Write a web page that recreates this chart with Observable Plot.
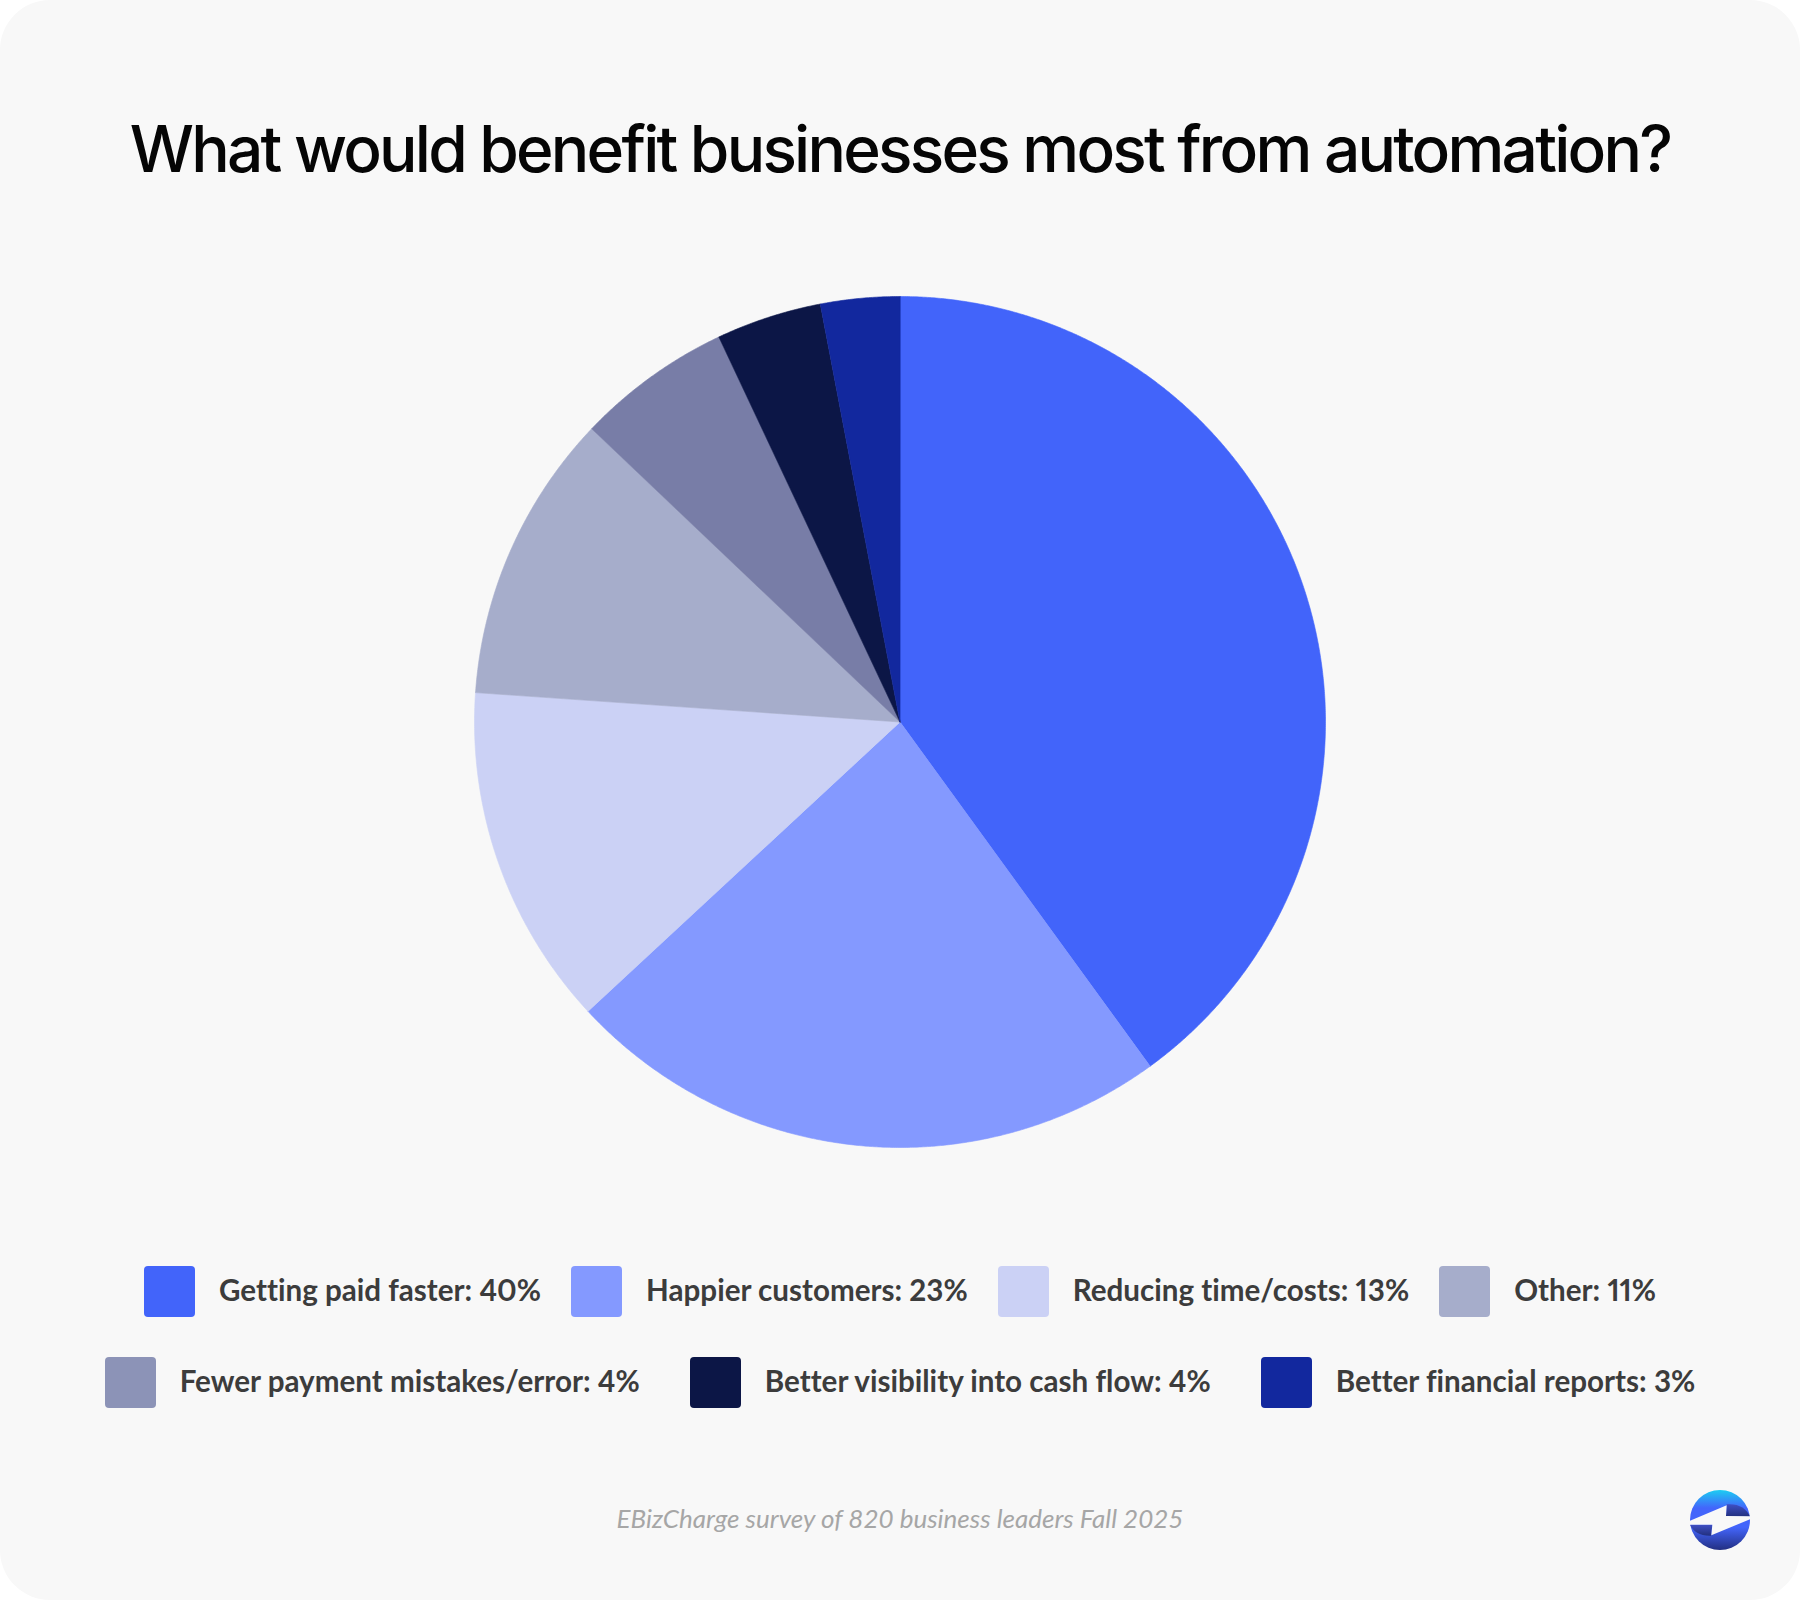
<!DOCTYPE html>
<html><head><meta charset="utf-8">
<script src="https://cdn.jsdelivr.net/npm/d3@7"></script>
<script src="https://cdn.jsdelivr.net/npm/@observablehq/plot@0.6"></script>
<style>
html,body{margin:0;padding:0;background:#fff}
#card{position:relative;width:1800px;height:1600px;background:#f8f8f8;border-radius:50px;overflow:hidden}
#title{position:absolute;left:0;right:0;top:104px;text-align:center;font:500 64px/90px Inter,sans-serif;color:#050505;letter-spacing:-2.76px;white-space:nowrap}
#chart{position:absolute;left:0;top:250px}
.row{position:absolute;left:0;right:0;display:flex;justify-content:center;height:51px}
#row1{gap:30px}
#row2{gap:50px}
.item{display:flex;align-items:center;gap:24px;font:700 29.6px Lato,sans-serif;color:#3c3c3c;white-space:nowrap;font-variant-ligatures:none;font-variant-numeric:proportional-nums}
.item span{margin-top:-4px}
.sw{width:51px;height:51px;border-radius:4px;flex:none}
#caption{position:absolute;left:0;right:0;top:1502px;text-align:center;font:italic 400 26px/32px Lato,sans-serif;color:#a6a6a6}
#logo{position:absolute;left:1690px;top:1490px}
</style></head><body>
<div id="card">
<div id="title"></div>
<div id="chart"></div>
<div class="row" id="row1" style="top:1266px"></div>
<div class="row" id="row2" style="top:1357px"></div>
<div id="caption"></div>
<svg id="logo" width="60" height="60" viewBox="270 120 180 180">
<defs><linearGradient id="g" x1="0" y1="0" x2="0" y2="1">
<stop offset="0" stop-color="#1ccdf2"/><stop offset=".3" stop-color="#4365fb"/><stop offset=".62" stop-color="#4365fb"/><stop offset="1" stop-color="#232f82"/></linearGradient>
<linearGradient id="d" x1="0" y1="0" x2="0" y2="1"><stop offset="0" stop-color="#3f4fc4"/><stop offset="1" stop-color="#22307f"/></linearGradient></defs>
<circle cx="360" cy="210" r="90" fill="url(#g)"/>
<path d="M380 163C415 160 440 175 450 200L378 198Z" fill="url(#d)"/>
<path d="M270 224L337 224L333 257C300 258 280 245 270 224Z" fill="url(#d)"/>
<path d="M266 214L380 166L378 198L454 199L454 206L334 256L337 224L266 224Z" fill="#f8f8f8"/>
</svg>
</div>
<script>
const titleText = "What would benefit businesses most from automation?";
const captionText = "EBizCharge survey of 820 business leaders Fall 2025";
const categories = ["Getting paid faster","Happier customers","Reducing time/costs","Other","Fewer payment mistakes/error","Better visibility into cash flow","Better financial reports"];
const sliceShares = [40,23.1,13,11,5.9,4,3];
const legendPercents = [40,23,13,11,4,4,3];
const sliceColors = ["#4264fa","#8499ff","#cbd1f5","#a6adcb","#787da7","#0c1646","#12289e"];
const swatchColors = ["#4264fa","#8499ff","#cbd1f5","#a6adcb","#8c93b7","#0c1646","#12289e"];

document.getElementById("title").textContent = titleText;
document.getElementById("caption").textContent = captionText;

// Each slice outline is derived from its share, with d3.pie giving the angles.
const arcs = d3.pie().sort(null).value(d => d)(sliceShares);
const outline = arcs.flatMap((a, i) => {
  const n = Math.max(2, Math.ceil((a.endAngle - a.startAngle) / 0.005));
  const pts = [{category: categories[i], x: 0, y: 0}];
  for (let k = 0; k <= n; k++) {
    const t = a.startAngle + (a.endAngle - a.startAngle) * k / n;
    pts.push({category: categories[i], x: Math.sin(t), y: Math.cos(t)});
  }
  return pts;
});

const plot = Plot.plot({
  width: 1800, height: 960,
  marginLeft: 474, marginRight: 475, marginTop: 46, marginBottom: 63,
  style: {background: "transparent"},
  x: {axis: null, domain: [-1, 1]},
  y: {axis: null, domain: [-1, 1]},
  color: {domain: categories, range: sliceColors},
  marks: [
    Plot.line(outline, {x: "x", y: "y", z: "category", fill: "category", stroke: "category", strokeWidth: 0.6, curve: "linear-closed"})
  ]
});
document.getElementById("chart").append(plot);

categories.forEach((c, i) => {
  const item = document.createElement("div"); item.className = "item";
  const sw = document.createElement("div"); sw.className = "sw"; sw.style.background = swatchColors[i];
  const label = document.createElement("span"); label.textContent = `${c}: ${legendPercents[i]}%`;
  item.append(sw, label);
  document.getElementById(i < 4 ? "row1" : "row2").append(item);
});
</script>
</body></html>
